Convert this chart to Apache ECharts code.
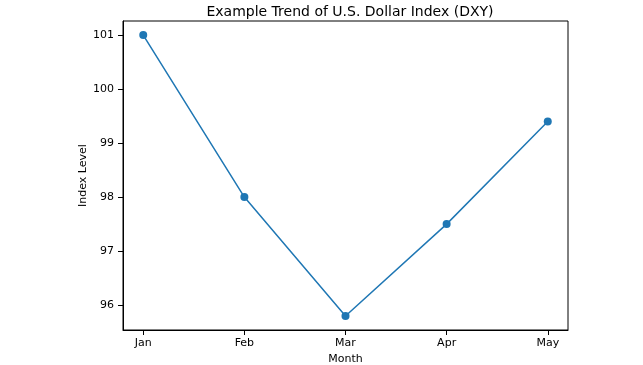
<!DOCTYPE html>
<html>
<head>
<meta charset="utf-8">
<script src="https://cdn.jsdelivr.net/npm/echarts@6/dist/echarts.min.js"></script>
<style>html,body{margin:0;padding:0;background:#fff;}#c{width:643px;height:365px;}</style>
</head>
<body>
<div id="c"></div>
<script>
const months = ["Jan", "Feb", "Mar", "Apr", "May"];
const dxyValues = [101.0, 98.0, 95.8, 97.5, 99.4];
const yTicks = [96, 97, 98, 99, 100, 101];

const chart = echarts.init(document.getElementById('c'), null, {renderer: 'canvas'});
const font = 'DejaVu Sans';
chart.setOption({
  animation: false,
  backgroundColor: '#fff',
  title: {
    text: 'Example Trend of U.S. Dollar Index (DXY)',
    left: 345, top: 0, textAlign: 'center',
    textStyle: {fontFamily: font, fontSize: 14, fontWeight: 'normal', color: '#000'}
  },
  grid: {left: 123, right: 75, top: 21, bottom: 35, outerBoundsMode: 'none', containLabel: false, show: true, borderColor: '#000', borderWidth: 1},
  xAxis: {
    type: 'value', min: -0.2, max: 4.2,
    name: 'Month', nameLocation: 'middle', nameGap: 22,
    nameTextStyle: {fontFamily: font, fontSize: 11, color: '#000'},
    axisLine: {show: true, onZero: false, lineStyle: {color: '#000', width: 1}},
    axisTick: {show: true, length: 5, customValues: months.map((m, i) => i), lineStyle: {color: '#000'}},
    axisLabel: {customValues: months.map((m, i) => i), formatter: v => months[Math.round(v)], fontFamily: font, fontSize: 11, color: '#000', margin: 8},
    splitLine: {show: false}
  },
  yAxis: {
    type: 'value', min: 95.54, max: 101.26,
    name: 'Index Level', nameLocation: 'middle', nameGap: 34.5, nameMoveOverlap: false,
    nameTextStyle: {fontFamily: font, fontSize: 11, color: '#000'},
    axisLine: {show: true, onZero: false, lineStyle: {color: '#000', width: 1}},
    axisTick: {show: true, length: 5, customValues: yTicks, lineStyle: {color: '#000'}},
    axisLabel: {customValues: yTicks, fontFamily: font, fontSize: 11, color: '#000', margin: 9},
    splitLine: {show: false}
  },
  series: [{
    type: 'line',
    data: dxyValues.map((v, i) => [i, v]),
    symbol: 'circle', symbolSize: 8,
    lineStyle: {color: '#1f77b4', width: 1.5},
    itemStyle: {color: '#1f77b4'}
  }]
});
</script>
</body>
</html>
